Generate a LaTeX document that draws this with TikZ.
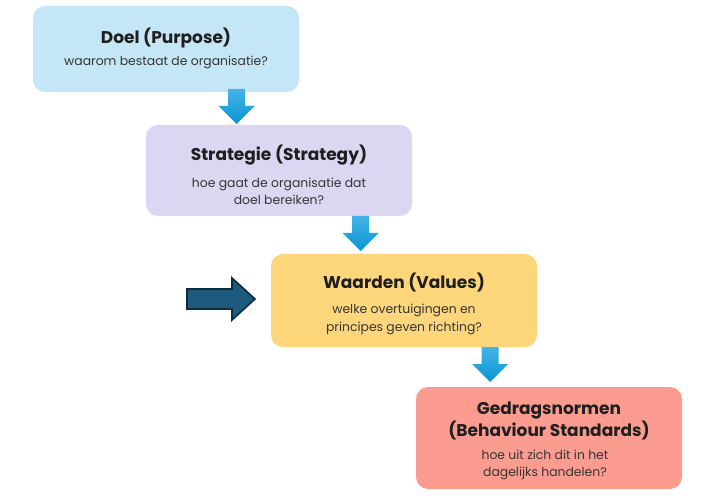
\documentclass[tikz,border=0pt]{standalone}
\usepackage{fontspec}
\setmainfont{Poppins}
\usetikzlibrary{calc}
\definecolor{bxblue}{HTML}{C5E6F6}
\definecolor{bxlav}{HTML}{DCD6F2}
\definecolor{bxyel}{HTML}{FDD67B}
\definecolor{bxred}{HTML}{FC9C91}
\definecolor{txt}{HTML}{1F1F1F}
\definecolor{arrtop}{HTML}{45B4E6}
\definecolor{arrbot}{HTML}{0795D4}
\definecolor{darkarr}{HTML}{1D5B7E}
\definecolor{darkedge}{HTML}{0E2C3C}
\begin{document}
\begin{tikzpicture}[x=1pt,y=-1pt,
  box/.style={rectangle,rounded corners=12pt,minimum width=266pt,inner sep=0pt},
  ttl/.style={font=\fontsize{17}{21}\selectfont\bfseries,text=txt,inner sep=0pt,align=center},
  sub/.style={font=\fontsize{12.4}{17.5}\selectfont,text=txt!90,inner sep=0pt,align=center},
  downarr/.style={top color=arrtop,bottom color=arrbot,draw=none}]
\useasboundingbox (0,0) rectangle (716,500);
\fill[white] (0,0) rectangle (716,500);
% boxes
\node[box,fill=bxblue,minimum height=86pt] (b1) at (166,49) {};
\node[box,fill=bxlav,minimum height=91pt] (b2) at (279,170.5) {};
\node[box,fill=bxyel,minimum height=93pt] (b3) at (404,300.5) {};
\node[box,fill=bxred,minimum height=102pt] (b4) at (549,438) {};
% texts
\node[ttl] (t1) at (166,38) {Doel (Purpose)};
\node[sub] (s1) at (166,62) {waarom bestaat de organisatie?};
\node[ttl] (t2) at (279,155) {Strategie (Strategy)};
\node[sub] (s2) at (279,191.5) {hoe gaat de organisatie dat\\doel bereiken?};
\node[ttl] (t3) at (404,283) {Waarden (Values)};
\node[sub] (s3) at (404,319.5) {welke overtuigingen en\\principes geven richting?};
\node[ttl,font=\fontsize{17}{22}\selectfont\bfseries] (t4) at (549,421) {Gedragsnormen\\(Behaviour Standards)};
\node[sub] (s4) at (545,465) {hoe uit zich dit in het\\dagelijks handelen?};
% down arrows
\coordinate (a1) at (236.5,89);
\coordinate (a2) at (360.5,216);
\coordinate (a3) at (490,347);
\foreach \a in {a1,a2,a3}{
  \path[downarr] ($(\a)+(-8.5,0)$) -- ($(\a)+(8.5,0)$) -- ($(\a)+(8.5,17)$) -- ($(\a)+(18,17)$)
    -- ($(\a)+(0,35)$) -- ($(\a)+(-18,17)$) -- ($(\a)+(-8.5,17)$) -- cycle;
}
% left arrow
\coordinate (la) at (187,298.5);
\draw[fill=darkarr,draw=darkedge,line width=1.6pt,line join=miter]
  (la) ++(0,-9.5) -- ++(45,0) -- ++(0,-11) -- ++(23,21) -- ++(-23,21) -- ++(0,-11) -- ++(-45,0) -- cycle;
\end{tikzpicture}
\end{document}
